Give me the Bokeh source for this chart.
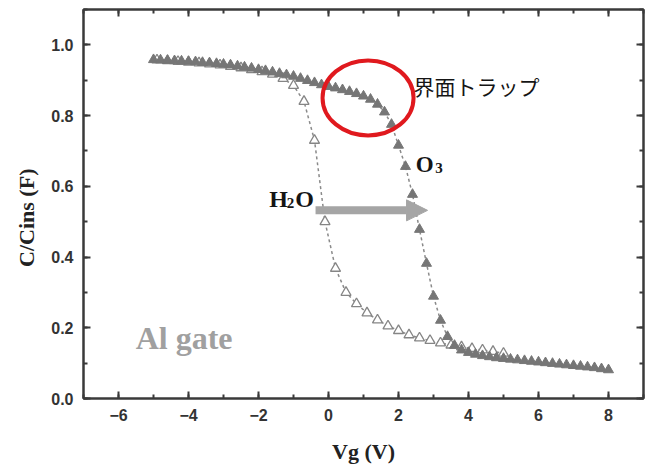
from bokeh.plotting import figure
from bokeh.models import (Range1d, LinearAxis, Arrow, NormalHead, Label,
                          NumeralTickFormatter, SingleIntervalTicker, ColumnDataSource,
                          CustomJSTickFormatter)
from bokeh.embed import file_html
from bokeh.resources import INLINE

# --- data ---
o3_vg = [-5.0, -4.8, -4.6, -4.4, -4.2, -4.0, -3.8, -3.6, -3.4, -3.2, -3.0, -2.8, -2.6,
         -2.4, -2.2, -2.0, -1.8, -1.6, -1.4, -1.2, -1.0, -0.8, -0.6, -0.4, -0.2, 0.0,
         0.2, 0.4, 0.6, 0.8, 1.0, 1.2, 1.4, 1.6, 1.8, 2.0, 2.2, 2.4, 2.6, 2.8, 3.0,
         3.2, 3.4, 3.6, 3.8, 4.0, 4.2, 4.4, 4.6, 4.8, 5.0, 5.2, 5.4, 5.6, 5.8, 6.0,
         6.2, 6.4, 6.6, 6.8, 7.0, 7.2, 7.4, 7.6, 7.8, 8.0]
o3_c = [0.958, 0.957, 0.956, 0.955, 0.954, 0.953, 0.952, 0.950, 0.949, 0.947, 0.945,
        0.943, 0.940, 0.937, 0.934, 0.930, 0.927, 0.923, 0.919, 0.915, 0.911, 0.905,
        0.899, 0.893, 0.887, 0.882, 0.878, 0.873, 0.868, 0.862, 0.855, 0.846, 0.832,
        0.810, 0.775, 0.716, 0.656, 0.577, 0.478, 0.382, 0.289, 0.221, 0.175, 0.150,
        0.137, 0.130, 0.125, 0.121, 0.118, 0.115, 0.113, 0.111, 0.109, 0.107, 0.105,
        0.103, 0.101, 0.099, 0.097, 0.095, 0.093, 0.091, 0.089, 0.087, 0.084, 0.081]

h2o_vg = [-4.9, -4.6, -4.3, -4.0, -3.7, -3.4, -3.1, -2.8, -2.5, -2.2, -1.9, -1.6, -1.3,
          -1.0, -0.7, -0.4, -0.1, 0.2, 0.5, 0.8, 1.1, 1.4, 1.7, 2.0, 2.3, 2.6, 2.9,
          3.2, 3.5, 3.8, 4.1, 4.4, 4.7, 5.0]
h2o_c = [0.957, 0.955, 0.953, 0.951, 0.949, 0.946, 0.943, 0.939, 0.935, 0.930, 0.924,
         0.917, 0.905, 0.885, 0.840, 0.730, 0.500, 0.368, 0.300, 0.268, 0.242, 0.222,
         0.205, 0.192, 0.180, 0.171, 0.164, 0.157, 0.151, 0.146, 0.141, 0.137, 0.133,
         0.128]

x_tick_step = 2
y_tick_step = 0.2

p = figure(width=656, height=468, output_backend="svg", toolbar_location=None,
           x_range=Range1d(-7, 9), y_range=Range1d(0, 1.1),
           min_border_left=83, min_border_right=13, min_border_top=9, min_border_bottom=70,
           x_axis_label="Vg (V)", y_axis_label="C/Cins (F)\u00a0\u00a0\u00a0\u00a0\u00a0")
p.grid.visible = False
p.outline_line_color = "#3a3a3a"
p.outline_line_width = 2
p.background_fill_color = "white"
p.border_fill_color = "white"

blank = CustomJSTickFormatter(code="return ''")
p.add_layout(LinearAxis(formatter=blank), "above")
p.add_layout(LinearAxis(formatter=blank), "right")

for ax in p.xaxis:
    ax.ticker = SingleIntervalTicker(interval=x_tick_step, num_minor_ticks=2)
for ax in p.yaxis:
    ax.ticker = SingleIntervalTicker(interval=y_tick_step, num_minor_ticks=2)
p.yaxis[0].formatter = NumeralTickFormatter(format="0.0")

for ax in p.axis:
    ax.axis_line_width = 2
    ax.axis_line_color = "#3a3a3a"
    ax.major_tick_in = 7
    ax.major_tick_out = 0
    ax.minor_tick_in = 4
    ax.minor_tick_out = 0
    ax.major_tick_line_width = 2
    ax.minor_tick_line_width = 2
    ax.major_tick_line_color = "#3a3a3a"
    ax.minor_tick_line_color = "#3a3a3a"
    ax.major_label_text_font = "Liberation Sans"
    ax.major_label_text_font_style = "bold"
    ax.major_label_text_font_size = "16px"
    ax.major_label_text_color = "#333333"
    ax.major_label_standoff = 10
    ax.axis_label_text_font = "Liberation Serif"
    ax.axis_label_text_font_style = "bold"
    ax.axis_label_text_font_size = "22px"
    ax.axis_label_text_color = "#222222"

p.above[0].major_label_standoff = 0
p.right[0].major_label_standoff = 0
p.below[0].axis_label_standoff = 15
p.below[0].axis_label_text_baseline = "top"
p.left[0].axis_label_standoff = 9

src_o3 = ColumnDataSource(dict(x=o3_vg, y=o3_c))
src_h2o = ColumnDataSource(dict(x=h2o_vg, y=h2o_c))

p.line("x", "y", source=src_h2o, line_color="#8a8a8a", line_width=1.5, line_dash="3 3")
p.line("x", "y", source=src_o3, line_color="#8a8a8a", line_width=1.5, line_dash="3 3")
p.scatter("x", "y", source=src_h2o, marker="triangle", size=10,
          fill_color="white", line_color="#858585", line_width=1.3)
p.scatter("x", "y", source=src_o3, marker="triangle", size=10,
          fill_color="#767676", line_color="#767676", line_width=1)

# interface-trap ellipse
p.ellipse(x=1.13, y=0.850, width=2.6, height=0.212, fill_color=None,
          line_color="#e0191e", line_width=4)

# shift arrow
p.add_layout(Arrow(x_start=-0.37, y_start=0.532, x_end=2.83, y_end=0.532,
                   line_color="#a5a5a5", line_width=8,
                   end=NormalHead(size=21, fill_color="#a5a5a5", line_color="#a5a5a5")))

def lab(x, y, t, size, font="Liberation Serif", style="bold", color="#151515"):
    p.add_layout(Label(x=x, y=y, text=t, text_font=font, text_font_style=style,
                       text_font_size=size, text_color=color, text_baseline="alphabetic"))

lab(-1.69, 0.563, "H", "24px")
lab(-1.19, 0.552, "2", "15px")
lab(-0.95, 0.563, "O", "24px")
lab(2.49, 0.662, "O", "23px")
lab(3.05, 0.651, "3", "15px")
lab(-5.51, 0.170, "Al gate", "32px", color="#a0a0a0")
lab(2.43, 0.883, "界面トラップ", "21px", font="Noto Sans CJK JP", style="normal")

open("out.html", "w").write(file_html(p, INLINE))
